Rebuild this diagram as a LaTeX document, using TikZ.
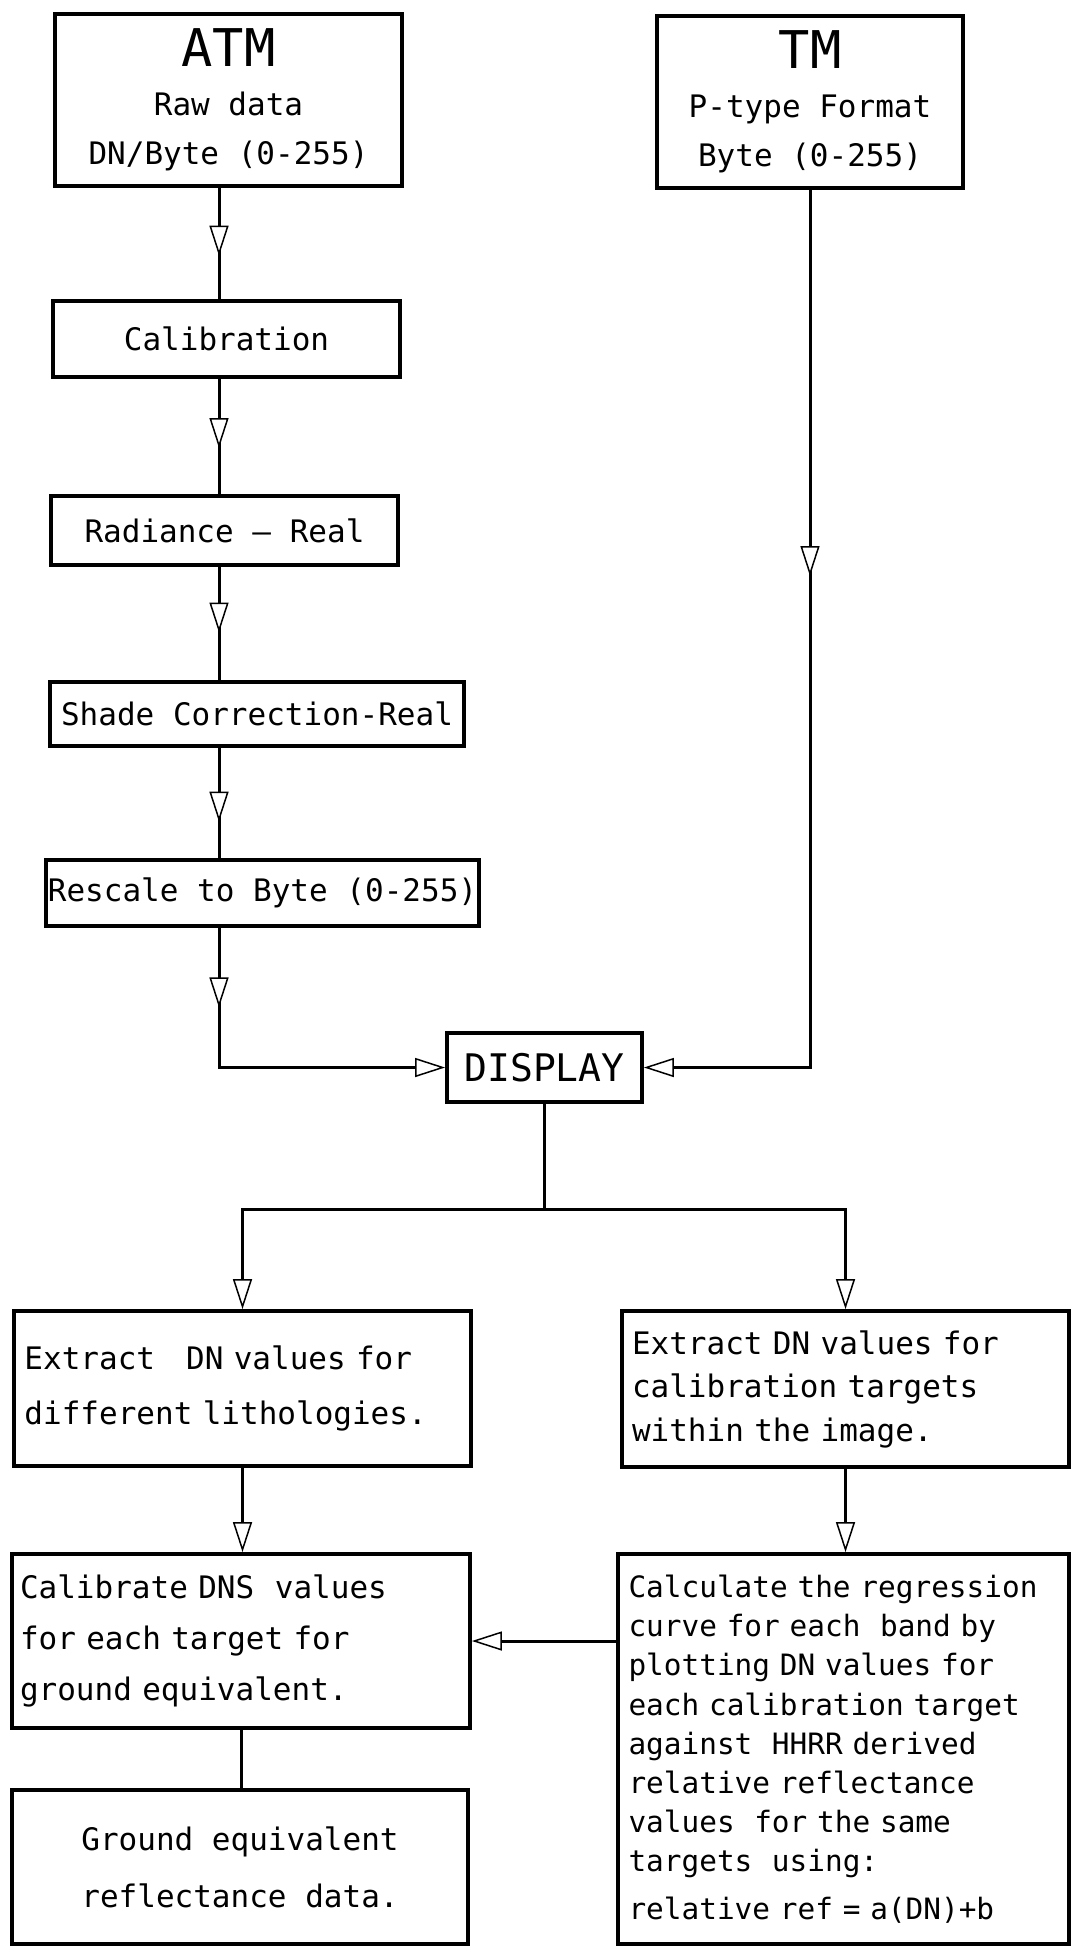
\documentclass[tikz,border=0pt]{standalone}
\usepackage{fontspec}
\setmainfont{DejaVu Sans Mono}
\usetikzlibrary{arrows.meta,decorations.markings}
\newcommand{\boxfont}[2]{\fontsize{#1}{#2}\selectfont}
\tikzset{
  flowbox/.style={draw,line width=1.9pt,inner sep=0pt,align=center,font=\boxfont{15.5pt}{24.5pt}},
  flowtip/.tip={Triangle[length=15pt,width=9.5pt,fill=white,line width=0.75pt]},
  flowline/.style={line width=1.5pt,line cap=rect},
  flowarr/.style={flowline,-flowtip},
  midarr/.style={flowline,postaction={decorate},
    decoration={markings,mark=at position #1 with {\arrow{flowtip}}}}
}

\begin{document}
\begin{tikzpicture}[x=0.5pt,y=-0.5pt]
  \useasboundingbox[fill=white] (0,0) rectangle (1071,1948);

  % --- sources ---
  \node[flowbox,minimum width=173.5pt,minimum height=86pt] (atm) at (228.5,100)
    {{\boxfont{26pt}{24.5pt}ATM}\\Raw data\\DN/Byte (0-255)};
  \node[flowbox,minimum width=153pt,minimum height=86pt] (tm) at (810,102)
    {{\boxfont{26pt}{24.5pt}TM}\\P-type Format\\Byte (0-255)};

  % --- ATM chain ---
  \node[flowbox,minimum width=173.5pt,minimum height=38pt] (calib) at (226.5,339) {Calibration};
  \node[flowbox,minimum width=173.5pt,minimum height=34.5pt] (rad) at (224.5,530.5) {Radiance – Real};
  \node[flowbox,minimum width=207pt,minimum height=32pt] (shade) at (257,714) {Shade Correction-Real};
  \node[flowbox,minimum width=216.5pt,minimum height=33pt] (rescale) at (262.5,893) {Rescale to Byte (0-255)};
  \node[flowbox,minimum width=97.5pt,minimum height=34.5pt,font=\boxfont{19pt}{22pt}] (display) at (544.5,1067.5) {DISPLAY};

  % --- results ---
  \node[flowbox,minimum width=228.5pt,minimum height=77.5pt,text width=218pt,align=left,
    font=\boxfont{15.5pt}{27.5pt}] (extl) at (242.5,1388.5)
    {Extract\ \ \ DN values for\\different lithologies.};
  \node[flowbox,minimum width=223.5pt,minimum height=78pt,text width=213.5pt,align=left,
    font=\boxfont{15.5pt}{21.75pt}] (extr) at (845.5,1389)
    {Extract DN values for\\calibration targets\\within the image.};
  \node[flowbox,minimum width=229pt,minimum height=87pt,text width=221pt,align=left,
    font=\boxfont{15.5pt}{25.5pt}] (caldns) at (241,1641)
    {Calibrate DNS\ \ values\\for each target for\\ground equivalent.};
  \node[flowbox,minimum width=228pt,minimum height=77pt,align=left,
    font=\boxfont{15.5pt}{28.5pt}] (ground) at (240,1867)
    {Ground equivalent\\reflectance data.};
  \node[flowbox,minimum width=225.5pt,minimum height=195pt,text width=215pt,align=left,
    font=\boxfont{14.7pt}{19.6pt}] (calc) at (843.5,1749)
    {Calculate the regression\\curve for each\ \ band by\\plotting DN values for\\
     each calibration target\\against\ \ HHRR derived\\relative reflectance\\
     values\ \ for the same\\targets\ \ using:\\[4pt]relative ref = a(DN)+b};

  % --- connectors ---
  \coordinate (spine) at (219,0);
  \coordinate (split) at (547,1209);
  \draw[midarr=0.61] (atm.south -| spine) -- (calib.north -| spine);
  \draw[midarr=0.6] (calib.south -| spine) -- (rad.north -| spine);
  \draw[midarr=0.58] (rad.south -| spine) -- (shade.north -| spine);
  \draw[midarr=0.67] (shade.south -| spine) -- (rescale.north -| spine);
  \draw[midarr=0.57] (rescale.south -| spine) -- (spine |- display.west);
  \draw[flowarr] (spine |- display.west) -- (display.west);
  \draw[midarr=0.44] (tm.south) -- (tm.south |- display.east);
  \draw[flowarr] (tm.south |- display.east) -- (display.east);
  \draw[flowline] (display.south) -- (display.south |- split);
  \draw[flowarr] (display.south |- split) -| (extl.north);
  \draw[flowarr] (display.south |- split) -| (extr.north);
  \draw[flowarr] (extl.south) -- (extl.south |- caldns.north);
  \draw[flowarr] (extr.south) -- (extr.south |- calc.north);
  \draw[flowarr] (calc.west |- caldns.east) -- (caldns.east);
  \draw[flowline] (caldns.south) -- (caldns.south |- ground.north);
\end{tikzpicture}
\end{document}
